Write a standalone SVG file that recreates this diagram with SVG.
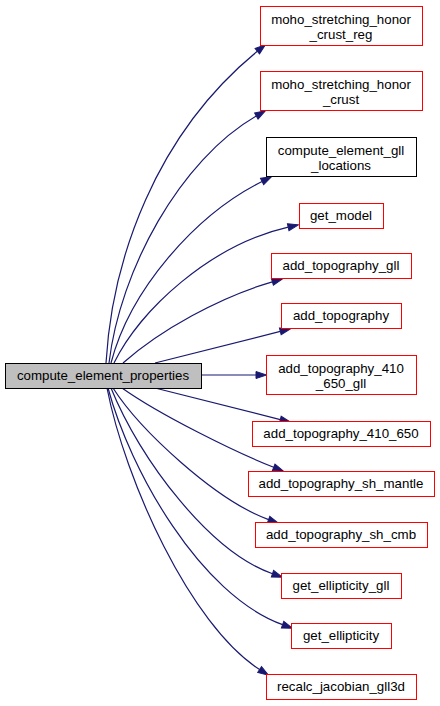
<svg xmlns="http://www.w3.org/2000/svg" width="440" height="706" viewBox="0 0 440 706">
<style>
text{font-family:"Liberation Sans",Arial,Helvetica,sans-serif;font-size:13.3px;fill:#000;text-anchor:middle}
.n rect{fill:#fff;stroke:#ff0000;stroke-width:1}
.b rect{fill:#fff;stroke:#000;stroke-width:1}
.m rect{fill:#bfbfbf;stroke:#000;stroke-width:1}
.e path{fill:none;stroke:#191970;stroke-width:1.2;marker-end:url(#ah)}
</style>
<defs>
<marker id="ah" markerUnits="userSpaceOnUse" markerWidth="12" markerHeight="10" refX="0" refY="5" orient="auto" viewBox="0 0 12 10" overflow="visible">
<path d="M0,1.5 L10.5,5 L0,8.5 z" fill="#191970" stroke="#191970" stroke-width="1"/>
</marker>
</defs>
<rect width="440" height="706" fill="#fff"/>
<g id="edges" class="e">
<path d="M106,363 C112,260 155,135 257.3,51.3"/>
<path d="M109,363 C120,270 180,160 256.3,116"/>
<path d="M111,363 C130,290 195,215 262.1,181.5"/>
<path d="M114,363 C140,310 210,245 288.2,227.2"/>
<path d="M123,363 C160,330 220,297 272.4,281.8"/>
<path d="M155,363 L280.3,331.4"/>
<path d="M201,375 L256,375"/>
<path d="M155,388 L280.3,419.6"/>
<path d="M122,388 C160,415 235,452 273.7,467.3"/>
<path d="M113,388 C140,430 215,500 268.6,519.6"/>
<path d="M111,388 C140,460 210,552 272.5,573.7"/>
<path d="M108,388 C130,470 200,595 282.6,624.6"/>
<path d="M107,388 C125,480 190,625 259.6,669.6"/>
</g>
<g id="compute_element_properties" class="m"><rect x="5.5" y="363.5" width="196" height="25"/><text x="103" y="380">compute_element_properties</text></g>
<g id="moho_stretching_honor_crust_reg" class="n"><rect x="260.5" y="6.5" width="162" height="39"/><text x="341" y="23.5">moho_stretching_honor</text><text x="341" y="38.5">_crust_reg</text></g>
<g id="moho_stretching_honor_crust" class="n"><rect x="260.5" y="71.5" width="162" height="39"/><text x="341" y="88.5">moho_stretching_honor</text><text x="341" y="103.5">_crust</text></g>
<g id="compute_element_gll_locations" class="b"><rect x="266.5" y="137.5" width="150" height="39"/><text x="341" y="154.5">compute_element_gll</text><text x="341" y="169.5">_locations</text></g>
<g id="get_model" class="n"><rect x="299.5" y="203.5" width="84" height="25"/><text x="341" y="220">get_model</text></g>
<g id="add_topography_gll" class="n"><rect x="271.5" y="253.5" width="140" height="25"/><text x="341" y="270">add_topography_gll</text></g>
<g id="add_topography" class="n"><rect x="281.5" y="303.5" width="120" height="25"/><text x="341" y="320">add_topography</text></g>
<g id="add_topography_410_650_gll" class="n"><rect x="266.5" y="355.5" width="150" height="39"/><text x="341" y="372.5">add_topography_410</text><text x="341" y="387.5">_650_gll</text></g>
<g id="add_topography_410_650" class="n"><rect x="252.5" y="421.5" width="178" height="25"/><text x="341" y="438">add_topography_410_650</text></g>
<g id="add_topography_sh_mantle" class="n"><rect x="248.5" y="471.5" width="186" height="25"/><text x="341" y="488">add_topography_sh_mantle</text></g>
<g id="add_topography_sh_cmb" class="n"><rect x="255.5" y="522.5" width="172" height="25"/><text x="341" y="539">add_topography_sh_cmb</text></g>
<g id="get_ellipticity_gll" class="n"><rect x="281.5" y="573.5" width="120" height="25"/><text x="341" y="590">get_ellipticity_gll</text></g>
<g id="get_ellipticity" class="n"><rect x="291.5" y="623.5" width="100" height="25"/><text x="341" y="640">get_ellipticity</text></g>
<g id="recalc_jacobian_gll3d" class="n"><rect x="266.5" y="674.5" width="150" height="25"/><text x="341" y="691">recalc_jacobian_gll3d</text></g>
</svg>
